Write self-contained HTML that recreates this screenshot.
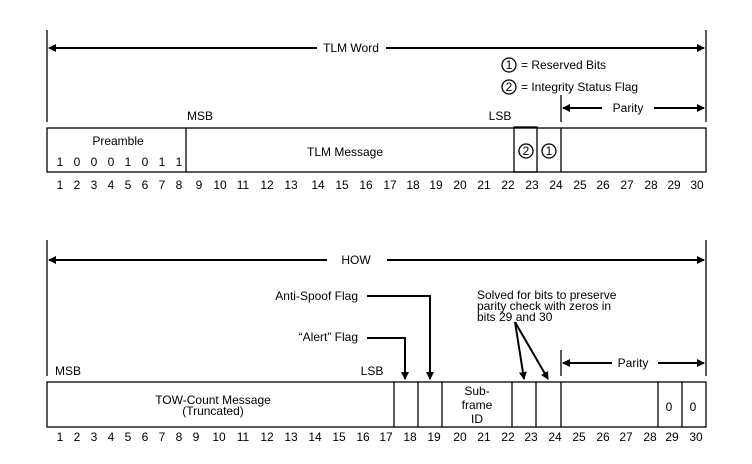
<!DOCTYPE html>
<html><head><meta charset="utf-8"><style>body{margin:0;background:#fff}svg{display:block}text{font-family:"Liberation Sans",Arial,sans-serif;font-size:12px;fill:#000}</style></head><body>
<svg width="752" height="464" viewBox="0 0 752 464" xmlns="http://www.w3.org/2000/svg">
<defs><marker id="a" markerWidth="8" markerHeight="8" refX="7" refY="4" orient="auto" markerUnits="userSpaceOnUse"><path d="M0,0 L8,4 L0,8 z" fill="#000"/></marker></defs>
<g stroke="#000" stroke-width="1.3" fill="none">
<line x1="47" y1="30" x2="47" y2="122"/><line x1="706" y1="30" x2="706" y2="122"/>
<line x1="317" y1="48" x2="49" y2="48" stroke-width="2" marker-end="url(#a)"/>
<line x1="386" y1="48" x2="704" y2="48" stroke-width="2" marker-end="url(#a)"/>
<line x1="561" y1="95" x2="561" y2="122"/>
<line x1="602" y1="108" x2="563" y2="108" stroke-width="2" marker-end="url(#a)"/>
<line x1="654" y1="108" x2="704" y2="108" stroke-width="2" marker-end="url(#a)"/>
<rect x="47" y="128" width="659" height="44"/>
<line x1="186" y1="128" x2="186" y2="172"/>
<rect x="514" y="127" width="23" height="45"/>
<line x1="561" y1="128" x2="561" y2="172"/>
<circle cx="526" cy="151" r="7"/><circle cx="549" cy="151" r="7"/>
<circle cx="509" cy="65" r="7"/><circle cx="509" cy="87" r="7"/>

<line x1="47" y1="240" x2="47" y2="376"/><line x1="706" y1="240" x2="706" y2="376"/>
<line x1="327" y1="260" x2="49" y2="260" stroke-width="2" marker-end="url(#a)"/>
<line x1="387" y1="260" x2="704" y2="260" stroke-width="2" marker-end="url(#a)"/>
<line x1="561" y1="350" x2="561" y2="376"/>
<line x1="612" y1="363" x2="563" y2="363" stroke-width="2" marker-end="url(#a)"/>
<line x1="658" y1="363" x2="704" y2="363" stroke-width="2" marker-end="url(#a)"/>
<rect x="47" y="382" width="659" height="45"/>
<line x1="394" y1="382" x2="394" y2="427"/><line x1="418" y1="382" x2="418" y2="427"/>
<line x1="442" y1="382" x2="442" y2="427"/><line x1="512" y1="382" x2="512" y2="427"/>
<line x1="536" y1="382" x2="536" y2="427"/><line x1="561" y1="382" x2="561" y2="427"/>
<line x1="658" y1="382" x2="658" y2="427"/><line x1="682" y1="382" x2="682" y2="427"/>
<polyline points="367,338 405,338 405,379" stroke-width="2" marker-end="url(#a)"/>
<polyline points="367,296 430,296 430,379" stroke-width="2" marker-end="url(#a)"/>
<line x1="515" y1="322" x2="524" y2="379" stroke-width="2" marker-end="url(#a)"/>
<line x1="515" y1="322" x2="548" y2="379" stroke-width="2" marker-end="url(#a)"/>
</g>
<text x="351" y="52" text-anchor="middle">TLM Word</text>
<text x="509" y="69" text-anchor="middle" font-size="10">1</text>
<text x="509" y="91" text-anchor="middle" font-size="10">2</text>
<text x="521" y="69">=  Reserved Bits</text>
<text x="521" y="91">= Integrity Status Flag</text>
<text x="628" y="112" text-anchor="middle">Parity</text>
<text x="200" y="120" text-anchor="middle">MSB</text>
<text x="500" y="120" text-anchor="middle">LSB</text>
<text x="118" y="145" text-anchor="middle">Preamble</text>
<text x="60" y="166" text-anchor="middle">1</text><text x="77" y="166" text-anchor="middle">0</text><text x="94" y="166" text-anchor="middle">0</text><text x="111" y="166" text-anchor="middle">0</text><text x="128" y="166" text-anchor="middle">1</text><text x="145" y="166" text-anchor="middle">0</text><text x="162" y="166" text-anchor="middle">1</text><text x="179" y="166" text-anchor="middle">1</text>
<text x="345" y="156" text-anchor="middle">TLM Message</text>
<text x="526" y="155" text-anchor="middle" font-size="10">2</text>
<text x="549" y="155" text-anchor="middle" font-size="10">1</text>
<g text-anchor="middle">
<text y="189"><tspan x="60">1</tspan><tspan x="77">2</tspan><tspan x="94">3</tspan><tspan x="111">4</tspan><tspan x="128">5</tspan><tspan x="145">6</tspan><tspan x="162">7</tspan><tspan x="179">8</tspan><tspan x="199">9</tspan><tspan x="220">10</tspan><tspan x="243">11</tspan><tspan x="267">12</tspan><tspan x="291">13</tspan><tspan x="318">14</tspan><tspan x="342">15</tspan><tspan x="366">16</tspan><tspan x="390">17</tspan><tspan x="413">18</tspan><tspan x="436">19</tspan><tspan x="460">20</tspan><tspan x="484">21</tspan><tspan x="508">22</tspan><tspan x="532">23</tspan><tspan x="556">24</tspan><tspan x="580">25</tspan><tspan x="603">26</tspan><tspan x="627">27</tspan><tspan x="651">28</tspan><tspan x="674">29</tspan><tspan x="697">30</tspan></text>
<text y="441"><tspan x="60">1</tspan><tspan x="77">2</tspan><tspan x="94">3</tspan><tspan x="111">4</tspan><tspan x="128">5</tspan><tspan x="145">6</tspan><tspan x="162">7</tspan><tspan x="179">8</tspan><tspan x="196">9</tspan><tspan x="219">10</tspan><tspan x="243">11</tspan><tspan x="267">12</tspan><tspan x="291">13</tspan><tspan x="315">14</tspan><tspan x="339">15</tspan><tspan x="363">16</tspan><tspan x="386">17</tspan><tspan x="410">18</tspan><tspan x="434">19</tspan><tspan x="460">20</tspan><tspan x="484">21</tspan><tspan x="508">22</tspan><tspan x="531">23</tspan><tspan x="555">24</tspan><tspan x="579">25</tspan><tspan x="603">26</tspan><tspan x="626">27</tspan><tspan x="650">28</tspan><tspan x="672">29</tspan><tspan x="696">30</tspan></text>
</g>
<text x="356" y="264" text-anchor="middle">HOW</text>
<text x="358" y="300" text-anchor="end">Anti-Spoof Flag</text>
<text x="358" y="341" text-anchor="end">“Alert” Flag</text>
<text x="477" y="299">Solved for bits to preserve</text>
<text x="477" y="310">parity check with zeros in</text>
<text x="477" y="321">bits 29 and 30</text>
<text x="633" y="367" text-anchor="middle">Parity</text>
<text x="68" y="375" text-anchor="middle">MSB</text>
<text x="372" y="375" text-anchor="middle">LSB</text>
<text x="213" y="404" text-anchor="middle">TOW-Count Message</text>
<text x="213" y="415" text-anchor="middle">(Truncated)</text>
<text x="477" y="395" text-anchor="middle">Sub-</text>
<text x="477" y="409" text-anchor="middle">frame</text>
<text x="477" y="423" text-anchor="middle">ID</text>
<text x="669" y="411" text-anchor="middle">0</text>
<text x="693" y="411" text-anchor="middle">0</text>
</svg>
</body></html>
